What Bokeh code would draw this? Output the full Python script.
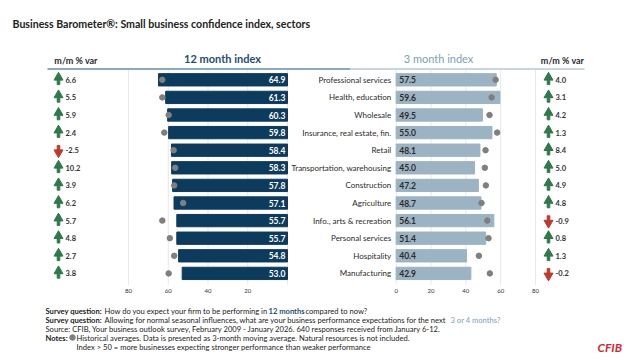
from bokeh.plotting import figure
from bokeh.models import Range1d
from bokeh.core.properties import value
from bokeh.embed import file_html
from bokeh.resources import INLINE

# ---------------- data ----------------
sectors = ["Professional services", "Health, education", "Wholesale",
           "Insurance, real estate, fin.", "Retail", "Transportation, warehousing",
           "Construction", "Agriculture", "Info., arts & recreation",
           "Personal services", "Hospitality", "Manufacturing"]
idx12 = [64.9, 61.3, 60.3, 59.8, 58.4, 58.3, 57.8, 57.1, 55.7, 55.7, 54.8, 53.0]
avg12 = [63.0, 63.0, 59.8, 62.0, 57.3, 56.5, 57.0, 52.5, 63.0, 59.2, 57.0, 59.8]
var12 = [6.6, 5.5, 5.9, 2.4, -2.5, 10.2, 3.9, 6.2, 5.7, 4.8, 2.7, 3.8]
idx3 = [57.5, 59.6, 49.5, 55.0, 48.1, 45.0, 47.2, 48.7, 56.1, 51.4, 40.4, 42.9]
avg3 = [57.1, 54.8, 53.6, 58.0, 51.3, 50.9, 51.5, 49.0, 52.3, 53.0, 47.5, 53.8]
var3 = [4.0, 3.1, 4.2, 1.3, 8.4, 5.0, 4.9, 4.8, -0.9, 0.8, 1.3, -0.2]
ticks12 = [80, 60, 40, 20]
ticks3 = [0, 20, 40, 60, 80]
grid12 = [0, 20, 40, 60, 80]

rows = list(range(len(sectors)))

FONT = value("Lato")
NAVY = "#0c3b5e"
LIGHT = "#9cb3c3"
GREEN = "#2f7a4c"
RED = "#c0392b"
DOT = "#7f7f7f"
TXT = "#333333"

W, H = 635, 362
p = figure(width=W, height=H, output_backend="svg", toolbar_location=None,
           x_range=Range1d(0, W), y_range=Range1d(H, 0),
           x_axis_type=None, y_axis_type=None, min_border=0,
           outline_line_color=None, background_fill_color="white")
p.grid.visible = False

# panel scales (page pixel geometry)
l0, lpx = 287.0, 1.9875   # left panel: value 0 at page x 287, reversed
r0, rpx = 395.7, 1.741    # right panel: value 0 at page x 395.7
row0, rowpx = 79.3, 17.6
p.extra_x_ranges = {
    "L": Range1d(start=l0 / lpx, end=(l0 - W) / lpx),
    "R": Range1d(start=-r0 / rpx, end=(W - r0) / rpx),
}
p.extra_y_ranges = {
    "rows": Range1d(start=(H - row0) / rowpx, end=(0 - row0) / rowpx),
}

# grid lines
n = len(sectors)
p.segment(x0=grid12, x1=grid12, y0=[-0.55] * 5, y1=[n - 0.35] * 5,
          x_range_name="L", y_range_name="rows", line_color="#e8e8e8", line_width=1)
p.segment(x0=ticks3, x1=ticks3, y0=[-0.55] * 5, y1=[n - 0.35] * 5,
          x_range_name="R", y_range_name="rows", line_color="#e8e8e8", line_width=1)

# bars
p.hbar(y=rows, left=0, right=idx12, height=0.7, color=NAVY,
       x_range_name="L", y_range_name="rows")
p.hbar(y=rows, left=0, right=idx3, height=0.7, color=LIGHT,
       x_range_name="R", y_range_name="rows")

# historical averages
p.scatter(x=avg12, y=rows, size=5.5, color=DOT, x_range_name="L", y_range_name="rows")
p.scatter(x=avg3, y=rows, size=5.5, color=DOT, x_range_name="R", y_range_name="rows")

# bar value labels
p.text(x=[0] * n, y=rows, text=[f"{v:.1f}" for v in idx12], x_offset=-2,
       text_align="right", text_baseline="middle", text_font=FONT,
       text_font_size="8.5px", text_font_style="bold", text_color="white",
       x_range_name="L", y_range_name="rows")
p.text(x=[0] * n, y=rows, text=[f"{v:.1f}" for v in idx3], x_offset=3,
       text_align="left", text_baseline="middle", text_font=FONT,
       text_font_size="8.5px", text_font_style="bold", text_color="#2a2a2a",
       x_range_name="R", y_range_name="rows")

# category labels
p.text(x=[0] * n, y=rows, text=sectors, x_offset=-5,
       text_align="right", text_baseline="middle", text_font=FONT,
       text_font_size="8px", text_color="#2a2a2a",
       x_range_name="R", y_range_name="rows")

# tick labels
p.text(x=ticks12, y=[290] * len(ticks12), text=[str(t) for t in ticks12],
       text_align="center", text_baseline="middle", text_font=FONT,
       text_font_size="6px", text_color=TXT, x_range_name="L")
p.text(x=ticks3, y=[290] * len(ticks3), text=[str(t) for t in ticks3],
       text_align="center", text_baseline="middle", text_font=FONT,
       text_font_size="6px", text_color=TXT, x_range_name="R")


# m/m % var arrows and values
def arrows(vals, xc):
    up = [r for r, v in zip(rows, vals) if v >= 0]
    dn = [r for r, v in zip(rows, vals) if v < 0]
    p.scatter(x=[xc] * len(up), y=[r - 0.13 for r in up], marker="triangle",
              size=9, color=GREEN, y_range_name="rows")
    p.rect(x=[xc] * len(up), y=[r + 0.13 for r in up], width=2.6, height=5,
           width_units="screen", height_units="screen", color=GREEN, y_range_name="rows")
    p.scatter(x=[xc] * len(dn), y=[r + 0.13 for r in dn], marker="inverted_triangle",
              size=9, color=RED, y_range_name="rows")
    p.rect(x=[xc] * len(dn), y=[r - 0.13 for r in dn], width=2.6, height=5,
           width_units="screen", height_units="screen", color=RED, y_range_name="rows")
    p.text(x=[xc + 7] * n, y=rows, text=[f"{v:.1f}" for v in vals],
           text_align="left", text_baseline="middle", text_font=FONT,
           text_font_size="7.5px", text_font_style="bold", text_color=TXT,
           y_range_name="rows")


arrows(var12, 58)
arrows(var3, 548)

# headers
p.text(x=[12], y=[23], text=["Business Barometer®: Small business confidence index, sectors"],
       text_align="left", text_baseline="middle", text_font=FONT,
       text_font_size="10.6px", text_font_style="bold", text_color="#222222")
p.text(x=[75.5, 562], y=[60, 60], text=["m/m % var", "m/m % var"],
       text_align="center", text_baseline="middle", text_font=FONT,
       text_font_size="9px", text_font_style="bold", text_color="#2a2a2a")
p.text(x=[222], y=[58], text=["12 month index"], text_align="center",
       text_baseline="middle", text_font=FONT, text_font_size="11px",
       text_font_style="bold", text_color="#1d4f73")
p.text(x=[438], y=[58], text=["3 month index"], text_align="center",
       text_baseline="middle", text_font=FONT, text_font_size="11px",
       text_color="#7d9fb6")
p.segment(x0=[47, 350], x1=[350, 584], y0=[68.5, 68.5], y1=[68.5, 68.5],
          line_color=["#8ea8bc", "#c9d6e0"], line_width=2)

# footnotes
fy = [310, 319, 328, 337, 346]
fs = "7.6px"


def ft(x, y, t, color="#222222", style="normal", align="left"):
    p.text(x=[x], y=[y], text=[t], text_align=align, text_baseline="middle",
           text_font=FONT, text_font_size=fs, text_color=color, text_font_style=style)


ft(45, fy[0], "Survey question:", style="bold")
ft(104, fy[0], "How do you expect your firm to be performing in")
ft(268, fy[0], "12 months", color="#1d4f73", style="bold")
ft(305, fy[0], "compared to now?")
ft(45, fy[1], "Survey question:", style="bold")
ft(104, fy[1], "Allowing for normal seasonal influences, what are your business performance expectations for the next")
ft(450, fy[1], "3 or 4 months?", color="#7d9fb6")
ft(45, fy[2], "Source: CFIB, Your business outlook survey, February 2009 - January 2026. 640 responses received from January 6-12.")
ft(45, fy[3], "Notes:", style="bold")
p.scatter(x=[72], y=[fy[3]], size=5.5, color=DOT)
ft(76, fy[3], "Historical averages. Data is presented as 3-month moving average. Natural resources is not included.")
ft(76, fy[4], "Index > 50 = more businesses expecting stronger performance than weaker performance")
p.text(x=[597], y=[347], text=["CFIB"], text_align="left", text_baseline="middle",
       text_font=FONT, text_font_size="12px", text_font_style="bold italic",
       text_color="#d7262f")

open("out.html", "w").write(file_html(p, INLINE))
